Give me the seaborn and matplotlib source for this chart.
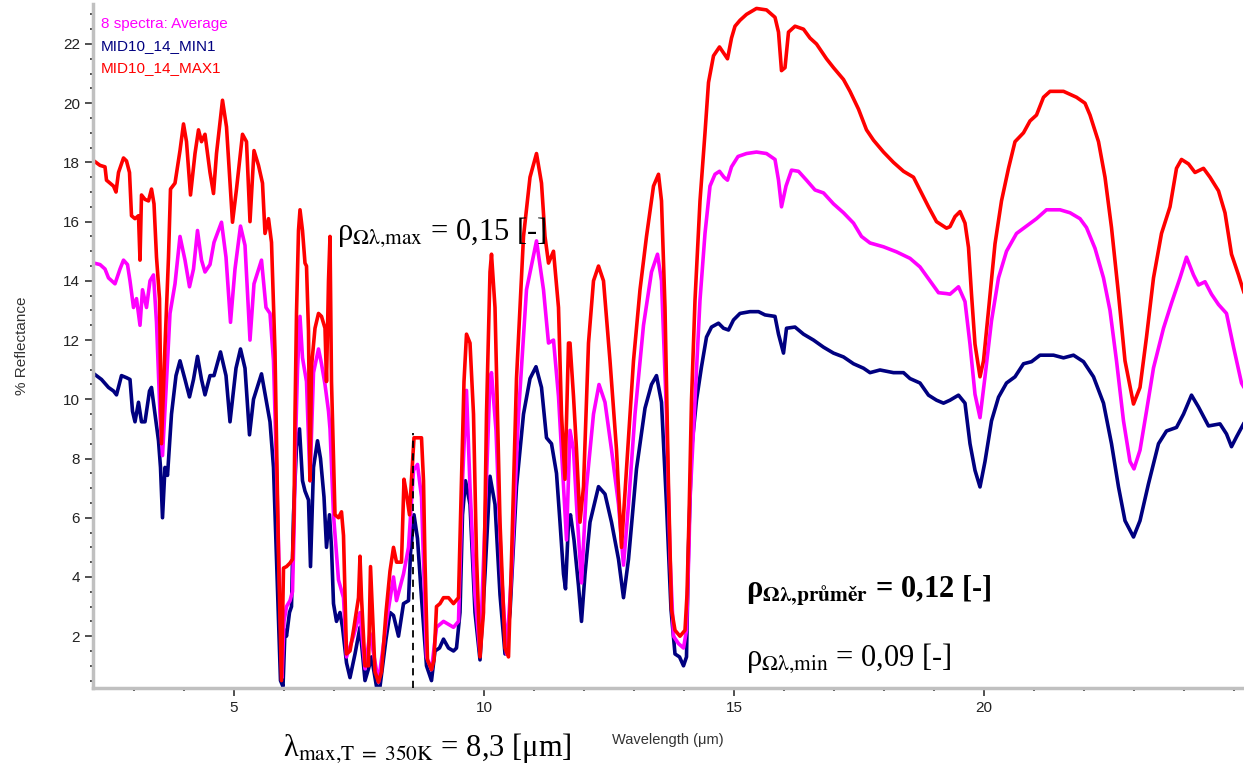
import matplotlib
matplotlib.use('Agg')
import matplotlib.pyplot as plt
from matplotlib.ticker import MultipleLocator
import seaborn as sns
import pandas as pd

# spectra (wavelength in um, % reflectance)
max_wl = [2.2, 2.32, 2.42, 2.45, 2.52, 2.59, 2.64, 2.69, 2.79, 2.85, 2.91, 2.95, 3.02, 3.09, 3.12,
          3.15, 3.22, 3.29, 3.35, 3.4, 3.45, 3.51, 3.55, 3.62, 3.69, 3.73, 3.82, 3.92, 3.99, 4.05,
          4.13, 4.22, 4.29, 4.35, 4.42, 4.52, 4.59, 4.65, 4.77, 4.85, 4.97, 5.05, 5.17, 5.25, 5.32,
          5.4, 5.49, 5.57, 5.62, 5.69, 5.75, 5.82, 5.89, 5.95, 5.99, 6.05, 6.12, 6.17, 6.2, 6.22,
          6.25, 6.29, 6.32, 6.37, 6.42, 6.45, 6.49, 6.52, 6.55, 6.62, 6.69, 6.75, 6.82, 6.85, 6.89,
          6.92, 6.95, 7.02, 7.09, 7.15, 7.19, 7.25, 7.32, 7.39, 7.49, 7.52, 7.55, 7.62, 7.69, 7.73,
          7.77, 7.82, 7.89, 7.95, 8.04, 8.12, 8.19, 8.25, 8.35, 8.4, 8.45, 8.51, 8.55, 8.6, 8.75,
          8.79, 8.82, 8.87, 8.95, 9.0, 9.05, 9.12, 9.19, 9.29, 9.39, 9.49, 9.55, 9.6, 9.65, 9.72,
          9.79, 9.85, 9.92, 9.99, 10.05, 10.12, 10.15, 10.22, 10.32, 10.42, 10.49, 10.55, 10.65, 10.79, 10.92,
          11.05, 11.15, 11.22, 11.29, 11.39, 11.49, 11.55, 11.62, 11.69, 11.72, 11.79, 11.85, 11.92, 11.99, 12.09,
          12.19, 12.29, 12.39, 12.52, 12.65, 12.75, 12.85, 12.99, 13.12, 13.25, 13.39, 13.49, 13.55, 13.62, 13.69,
          13.75, 13.82, 13.92, 14.02, 14.06, 14.1, 14.15, 14.22, 14.32, 14.42, 14.49, 14.59, 14.71, 14.79, 14.87,
          14.95, 15.02, 15.12, 15.25, 15.45, 15.65, 15.82, 15.89, 15.95, 16.02, 16.09, 16.22, 16.39, 16.52, 16.65,
          16.85, 16.99, 17.19, 17.32, 17.49, 17.65, 17.79, 17.99, 18.19, 18.39, 18.59, 18.72, 18.89, 19.05, 19.25,
          19.32, 19.42, 19.52, 19.62, 19.69, 19.75, 19.82, 19.92, 19.99, 20.09, 20.22, 20.35, 20.49, 20.62, 20.79,
          20.92, 21.05, 21.19, 21.32, 21.59, 21.72, 21.85, 22.02, 22.12, 22.29, 22.42, 22.55, 22.69, 22.82, 22.99,
          23.12, 23.25, 23.39, 23.55, 23.72, 23.85, 23.95, 24.09, 24.22, 24.39, 24.52, 24.69, 24.82, 24.95, 25.09,
          25.2]
max_refl = [18.05, 17.9, 17.85, 17.4, 17.3, 17.2, 17.0, 17.66, 18.15, 18.05, 17.66, 16.2, 16.1, 16.2, 14.7,
            16.9, 16.75, 16.7, 17.1, 16.6, 14.8, 13.4, 8.5, 11.8, 14.8, 17.1, 17.3, 18.4, 19.3, 18.7,
            16.9, 18.3, 19.1, 18.7, 18.95, 17.66, 16.95, 18.3, 20.1, 19.2, 15.98, 17.1, 18.95, 18.7, 16.0,
            18.4, 17.9, 17.3, 15.6, 16.1, 15.3, 11.6, 4.7, 0.5, 4.3, 4.35, 4.47, 4.6, 6.1, 9.5,
            12.9, 15.7, 16.4, 15.7, 14.6, 14.5, 12.3, 7.25, 11.1, 12.4, 12.9, 12.8, 12.4, 10.6, 14.0,
            15.5, 10.6, 6.1, 6.0, 6.2, 5.4, 1.4, 1.5, 2.2, 3.3, 4.7, 3.3, 1.0, 1.0, 4.35,
            2.8, 0.8, 0.45, 0.8, 2.8, 4.2, 5.0, 4.5, 4.5, 7.3, 6.8, 6.1, 7.3, 8.7, 8.7,
            7.25, 4.5, 1.2, 0.87, 1.2, 3.0, 3.1, 3.3, 3.3, 3.1, 3.3, 7.25, 10.6, 12.2, 11.9,
            9.5, 4.7, 1.3, 2.8, 9.5, 14.3, 14.9, 13.1, 5.85, 1.6, 1.3, 4.6, 10.7, 15.5, 17.5,
            18.3, 17.3, 15.5, 14.6, 15.0, 13.1, 9.5, 7.3, 11.9, 11.9, 10.1, 8.3, 5.85, 7.05, 11.9,
            14.0, 14.5, 14.0, 11.3, 8.3, 5.0, 7.65, 11.3, 13.7, 15.5, 17.2, 17.6, 16.7, 13.1, 7.05,
            2.9, 2.2, 2.0, 2.2, 3.4, 6.0, 9.97, 13.35, 16.7, 19.0, 20.7, 21.6, 21.9, 21.7, 21.5,
            22.2, 22.6, 22.8, 23.0, 23.2, 23.15, 22.9, 22.4, 21.1, 21.2, 22.4, 22.6, 22.5, 22.2, 22.0,
            21.5, 21.2, 20.8, 20.4, 19.8, 19.1, 18.75, 18.35, 18.0, 17.7, 17.5, 17.07, 16.5, 16.0, 15.78,
            15.83, 16.17, 16.34, 15.95, 15.13, 13.55, 11.86, 10.76, 11.3, 13.0, 15.25, 16.7, 17.8, 18.7, 19.0,
            19.4, 19.6, 20.2, 20.4, 20.4, 20.3, 20.2, 20.0, 19.6, 18.7, 17.5, 15.8, 13.55, 11.3, 9.84,
            10.4, 12.1, 14.1, 15.6, 16.5, 17.8, 18.1, 17.95, 17.66, 17.8, 17.5, 17.04, 16.3, 14.9, 14.2,
            13.6]

avg_wl = [2.2, 2.32, 2.42, 2.49, 2.62, 2.72, 2.79, 2.87, 2.92, 2.99, 3.05, 3.12, 3.17, 3.25, 3.32,
          3.39, 3.45, 3.52, 3.57, 3.64, 3.72, 3.82, 3.92, 4.02, 4.11, 4.19, 4.27, 4.35, 4.42, 4.52,
          4.6, 4.75, 4.84, 4.93, 5.02, 5.13, 5.22, 5.32, 5.4, 5.55, 5.64, 5.72, 5.79, 5.85, 5.92,
          5.96, 6.0, 6.05, 6.12, 6.17, 6.2, 6.23, 6.27, 6.32, 6.37, 6.45, 6.52, 6.59, 6.69, 6.75,
          6.82, 6.89, 6.92, 6.99, 7.09, 7.19, 7.25, 7.39, 7.52, 7.62, 7.72, 7.89, 8.05, 8.19, 8.25,
          8.39, 8.49, 8.59, 8.67, 8.75, 8.85, 8.95, 9.05, 9.19, 9.29, 9.39, 9.49, 9.57, 9.65, 9.72,
          9.82, 9.92, 10.02, 10.12, 10.15, 10.24, 10.35, 10.45, 10.55, 10.69, 10.85, 11.05, 11.19, 11.29, 11.39,
          11.49, 11.59, 11.65, 11.72, 11.79, 11.85, 11.95, 12.05, 12.19, 12.3, 12.42, 12.55, 12.69, 12.79, 12.89,
          13.02, 13.19, 13.35, 13.47, 13.55, 13.65, 13.72, 13.79, 13.89, 13.99, 14.05, 14.1, 14.12, 14.22, 14.32,
          14.42, 14.52, 14.62, 14.71, 14.8, 14.87, 14.95, 15.08, 15.25, 15.45, 15.65, 15.82, 15.89, 15.95, 16.04,
          16.15, 16.29, 16.45, 16.62, 16.79, 16.99, 17.19, 17.39, 17.55, 17.72, 17.99, 18.25, 18.52, 18.72, 18.92,
          19.09, 19.25, 19.32, 19.49, 19.62, 19.72, 19.82, 19.92, 20.02, 20.15, 20.29, 20.45, 20.65, 20.89, 21.05,
          21.25, 21.52, 21.72, 21.92, 22.05, 22.22, 22.39, 22.52, 22.65, 22.79, 22.92, 23.0, 23.12, 23.25, 23.39,
          23.59, 23.75, 23.92, 24.05, 24.19, 24.29, 24.42, 24.55, 24.69, 24.85, 24.99, 25.15, 25.2]
avg_refl = [14.6, 14.55, 14.4, 14.1, 13.9, 14.4, 14.7, 14.55, 14.0, 13.1, 13.4, 12.5, 13.7, 13.1, 14.0,
            14.2, 12.6, 9.5, 8.1, 10.3, 12.9, 13.9, 15.5, 14.7, 13.8, 14.4, 15.7, 14.7, 14.3, 14.55,
            15.3, 15.98, 14.8, 12.6, 14.4, 15.85, 15.2, 12.0, 13.9, 14.7, 13.1, 12.9, 11.3, 7.7, 3.1,
            0.6, 2.5, 3.0, 3.2, 3.5, 5.5, 8.5, 11.0, 12.8, 11.4, 10.6, 7.25, 10.9, 11.7, 11.2,
            10.5, 9.6, 9.0, 6.1, 3.9, 3.3, 1.3, 2.0, 2.8, 0.9, 2.1, 0.45, 2.5, 4.0, 3.2,
            4.1, 5.0, 7.6, 7.8, 6.7, 1.3, 0.87, 2.3, 2.5, 2.4, 2.3, 2.5, 7.25, 10.3, 7.05,
            3.4, 1.4, 5.85, 10.7, 10.9, 8.95, 4.1, 1.4, 4.1, 9.5, 13.7, 15.35, 13.7, 11.9, 12.0,
            10.1, 7.05, 5.25, 8.95, 8.3, 6.45, 3.8, 7.05, 9.5, 10.5, 9.9, 8.3, 6.45, 4.4, 6.45,
            9.5, 12.5, 14.3, 14.9, 14.0, 9.5, 4.7, 2.0, 1.75, 1.6, 2.2, 5.0, 6.6, 9.97, 13.35,
            15.6, 17.2, 17.6, 17.7, 17.5, 17.4, 17.85, 18.2, 18.3, 18.35, 18.3, 18.1, 17.4, 16.5, 17.2,
            17.74, 17.7, 17.4, 17.07, 16.97, 16.6, 16.3, 15.95, 15.5, 15.28, 15.15, 14.98, 14.76, 14.47, 14.0,
            13.6, 13.57, 13.55, 13.8, 13.3, 11.86, 10.17, 9.38, 10.76, 12.65, 14.1, 15.0, 15.6, 15.9, 16.1,
            16.4, 16.4, 16.3, 16.1, 15.8, 15.1, 14.1, 13.0, 11.3, 9.27, 7.9, 7.65, 8.28, 9.6, 11.06,
            12.4, 13.25, 14.1, 14.8, 14.2, 13.86, 13.97, 13.55, 13.2, 12.9, 11.77, 10.55, 10.4]

min_wl = [2.2, 2.35, 2.49, 2.59, 2.65, 2.75, 2.85, 2.92, 2.97, 3.02, 3.09, 3.15, 3.22, 3.31, 3.35,
          3.42, 3.49, 3.53, 3.57, 3.62, 3.67, 3.75, 3.84, 3.92, 4.02, 4.11, 4.19, 4.27, 4.35, 4.42,
          4.52, 4.6, 4.73, 4.84, 4.92, 5.04, 5.13, 5.22, 5.31, 5.39, 5.55, 5.65, 5.72, 5.79, 5.84,
          5.89, 5.93, 5.98, 6.02, 6.05, 6.11, 6.15, 6.19, 6.25, 6.31, 6.37, 6.42, 6.49, 6.53, 6.59,
          6.67, 6.73, 6.8, 6.85, 6.91, 6.95, 6.99, 7.05, 7.12, 7.17, 7.25, 7.32, 7.42, 7.52, 7.62,
          7.69, 7.75, 7.85, 7.92, 8.04, 8.12, 8.19, 8.29, 8.39, 8.49, 8.53, 8.6, 8.67, 8.75, 8.85,
          8.95, 9.02, 9.11, 9.19, 9.29, 9.39, 9.45, 9.52, 9.57, 9.63, 9.72, 9.82, 9.92, 10.02, 10.12,
          10.22, 10.32, 10.42, 10.52, 10.65, 10.79, 10.92, 11.04, 11.15, 11.25, 11.35, 11.45, 11.52, 11.59, 11.63,
          11.69, 11.73, 11.8, 11.89, 11.95, 12.02, 12.12, 12.29, 12.42, 12.55, 12.69, 12.79, 12.89, 13.05, 13.22,
          13.35, 13.45, 13.55, 13.65, 13.74, 13.82, 13.91, 13.99, 14.05, 14.09, 14.15, 14.25, 14.35, 14.45, 14.55,
          14.69, 14.79, 14.89, 14.99, 15.12, 15.32, 15.49, 15.62, 15.82, 15.89, 15.99, 16.05, 16.22, 16.39, 16.59,
          16.79, 16.99, 17.19, 17.39, 17.59, 17.72, 17.92, 18.19, 18.39, 18.52, 18.72, 18.89, 19.05, 19.19, 19.32,
          19.49, 19.62, 19.72, 19.82, 19.92, 20.02, 20.15, 20.29, 20.45, 20.62, 20.79, 20.95, 21.12, 21.39, 21.59,
          21.79, 21.99, 22.19, 22.39, 22.55, 22.69, 22.82, 22.99, 23.12, 23.29, 23.49, 23.65, 23.85, 23.99, 24.15,
          24.29, 24.49, 24.72, 24.85, 24.95, 25.05, 25.2]
min_refl = [10.86, 10.67, 10.4, 10.28, 10.15, 10.8, 10.73, 10.67, 9.6, 9.24, 9.9, 9.24, 9.24, 10.28, 10.4,
            9.5, 8.6, 7.7, 6.0, 7.7, 7.43, 9.5, 10.8, 11.3, 10.67, 10.08, 10.67, 11.45, 10.67, 10.15,
            10.8, 10.8, 11.6, 10.8, 9.24, 11.05, 11.7, 11.05, 8.8, 10.0, 10.86, 9.9, 9.24, 7.7, 5.1,
            2.5, 0.5, 0.3, 2.2, 2.0, 2.8, 3.0, 6.1, 8.4, 9.0, 7.25, 6.9, 6.6, 4.35, 7.7,
            8.6, 8.0, 6.7, 5.0, 6.1, 5.0, 3.1, 2.5, 2.8, 2.3, 1.1, 0.6, 1.4, 2.3, 0.5,
            0.9, 1.3, 0.3, 0.3, 1.9, 2.8, 2.7, 2.0, 3.1, 3.2, 4.8, 6.1, 5.3, 3.3, 1.0,
            0.5, 1.5, 1.6, 1.9, 1.6, 1.5, 1.6, 2.8, 6.1, 7.25, 6.45, 2.8, 1.2, 4.1, 7.4,
            6.45, 3.4, 1.4, 2.8, 7.05, 9.5, 10.7, 11.1, 10.4, 8.7, 8.5, 7.5, 5.85, 4.1, 3.6,
            5.85, 6.1, 5.25, 3.7, 2.5, 4.1, 5.85, 7.05, 6.8, 5.85, 4.6, 3.3, 4.6, 7.65, 9.7,
            10.5, 10.8, 9.9, 6.45, 2.9, 1.4, 1.3, 1.0, 1.3, 5.0, 8.3, 9.97, 11.1, 12.1, 12.44,
            12.57, 12.4, 12.34, 12.68, 12.9, 12.96, 12.96, 12.85, 12.8, 12.2, 11.56, 12.4, 12.44, 12.2, 12.0,
            11.76, 11.56, 11.43, 11.2, 11.05, 10.9, 10.99, 10.9, 10.9, 10.7, 10.55, 10.14, 9.97, 9.87, 9.97,
            10.14, 9.87, 8.5, 7.6, 7.04, 7.9, 9.27, 10.07, 10.55, 10.76, 11.2, 11.27, 11.49, 11.49, 11.4,
            11.49, 11.27, 10.76, 9.87, 8.5, 7.04, 5.9, 5.35, 5.9, 7.15, 8.5, 8.93, 9.05, 9.5, 10.14,
            9.74, 9.1, 9.17, 8.83, 8.4, 8.73, 9.2]

labels = ['8 spectra: Average', 'MID10_14_MIN1', 'MID10_14_MAX1']
colors = ['#ff00ff', '#000080', '#ff0000']
lambda_line = 8.58     # dashed marker position (um)
lambda_line_top = 8.85

frames = [pd.DataFrame({'wl': w, 'refl': r, 'spectrum': lab})
          for w, r, lab in [(avg_wl, avg_refl, labels[0]),
                            (min_wl, min_refl, labels[1]),
                            (max_wl, max_refl, labels[2])]]
df = pd.concat(frames, ignore_index=True)

sns.set_style('ticks')
plt.rcParams['font.family'] = ['Liberation Sans', 'DejaVu Sans']
plt.rcParams['mathtext.fontset'] = 'stix'

fig = plt.figure(figsize=(12.44, 7.64), dpi=100)
ax = fig.add_axes([93 / 1244, 76 / 764, 1150 / 1244, 684 / 764])

# draw navy first, then magenta, red on top
sns.lineplot(data=df, x='wl', y='refl', hue='spectrum',
             hue_order=[labels[1], labels[0], labels[2]],
             palette=dict(zip(labels, colors)), estimator=None, sort=False,
             linewidth=2.6, ax=ax)

ax.vlines(lambda_line, 0.25, lambda_line_top, colors='black',
          linestyles=(0, (4, 3)), linewidth=1.3, zorder=5)

ax.set_xlim(2.18, 25.18)
ax.set_ylim(0.25, 23.35)
ax.set_xticks([5, 10, 15, 20])
ax.xaxis.set_minor_locator(MultipleLocator(1))
ax.set_yticks(range(2, 23, 2))
ax.yaxis.set_minor_locator(MultipleLocator(0.5))

for s in ['top', 'right']:
    ax.spines[s].set_visible(False)
for s in ['left', 'bottom']:
    ax.spines[s].set_color('#c0c0c0')
    ax.spines[s].set_linewidth(2.5)

ax.tick_params(which='major', length=6, width=1.2, color='#333333',
               labelsize=11, labelcolor='#222222', direction='out')
ax.tick_params(which='minor', length=2.5, width=1.2, color='#333333', direction='out')

ax.set_xlabel('Wavelength (μm)', fontsize=10.5, labelpad=13, color='#333333')
ax.set_ylabel('% Reflectance', fontsize=11, labelpad=24, color='#333333')

# legend: coloured text only
handles, labs = ax.get_legend_handles_labels()
leg = ax.legend([handles[labs.index(l)] for l in labels], labels,
                loc='upper left', bbox_to_anchor=(0.0, 0.992), frameon=False,
                handlelength=0, handletextpad=0, labelcolor='linecolor',
                fontsize=11, labelspacing=0.53, borderaxespad=0.3, borderpad=0.2)
for h in leg.legend_handles:
    h.set_visible(False)

serif = ['Liberation Serif', 'DejaVu Serif']
ax.text(7.06, 15.38, 'ρ' + r'$_{\mathrm{Ωλ{,}max}}$' + ' = 0,15 [-]', color='black',
        family=serif, fontsize=22, ha='left', va='baseline')
ax.text(15.24, 3.28, 'ρ' + r'$_{\mathbf{Ωλ{,}průměr}}$' + ' = 0,12 [-]', color='black',
        family=serif, fontsize=22, fontweight='bold', ha='left', va='baseline')
ax.text(15.24, 0.99, 'ρ' + r'$_{\mathrm{Ωλ{,}min}}$' + ' = 0,09 [-]', color='black',
        family=serif, fontsize=22, ha='left', va='baseline')
ax.text(5.98, -2.05, 'λ' + r'$_{\mathrm{max{,}T\ =\ 350K}}$' + ' = 8,3 [μm]', color='black',
        family=serif, fontsize=22, ha='left', va='baseline', clip_on=False)

fig.savefig('out.png', dpi=100)
